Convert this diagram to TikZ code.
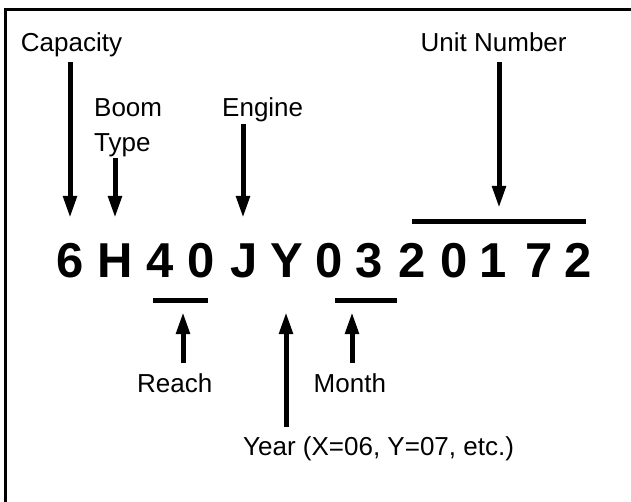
\documentclass[tikz,border=0pt]{standalone}
\usepackage{fontspec}
\setmainfont{Liberation Sans}
\usetikzlibrary{arrows.meta}
\begin{document}
\begin{tikzpicture}[x=1pt,y=-1pt,
  lab/.style={font=\fontsize{26}{34}\selectfont, inner sep=0pt, anchor=base west},
  ch/.style={font=\bfseries\fontsize{49}{55}\selectfont, inner sep=0pt, anchor=base},
  arr/.style={line width=5pt, -{Triangle[length=22pt,width=13pt]}},
  barline/.style={line width=5pt},
  frame/.style={line width=3pt}]
\useasboundingbox (0,0) rectangle (631,502);
% frame (left and top edges only)
\coordinate (fA) at (5.3,502);
\coordinate (fB) at (5.3,10);
\coordinate (fC) at (631,10);
\draw[frame] (fA) -- (fB) -- (fC);
% code characters
\node[ch] (c1) at (70,277) {6};
\node[ch] (c2) at (115,277) {H};
\node[ch] (c3) at (160,277) {4};
\node[ch] (c4) at (201,277) {0};
\node[ch] (c5) at (244,277) {J};
\node[ch] (c6) at (287,277) {Y};
\node[ch] (c7) at (329,277) {0};
\node[ch] (c8) at (369,277) {3};
\node[ch] (c9) at (412,277) {2};
\node[ch] (c10) at (454,277) {0};
\node[ch] (c11) at (493,277) {1};
\node[ch] (c12) at (539,277) {7};
\node[ch] (c13) at (578,277) {2};
% labels
\node[lab] (cap) at (20.7,51.6) {Capacity};
\node[lab] (boom) at (94,117) {Boom};
\node[lab] (type) at (94,151.5) {Type};
\node[lab] (eng) at (222,117) {Engine};
\node[lab] (unit) at (420.5,51.6) {Unit Number};
\node[lab] (reach) at (137,392.6) {Reach};
\node[lab] (month) at (313.5,392.6) {Month};
\node[lab] (year) at (243,455.6) {Year (X=06, Y=07, etc.)};
% bars
\coordinate (uL) at (412,222); \coordinate (uR) at (586,222);
\coordinate (rL) at (153,300.7); \coordinate (rR) at (208,300.7);
\coordinate (mL) at (335,300.7); \coordinate (mR) at (397,300.7);
\draw[barline] (uL) -- (uR);
\draw[barline] (rL) -- (rR);
\draw[barline] (mL) -- (mR);
% arrow end levels
\coordinate (topTip) at (0,218);
\coordinate (unitTip) at (0,208);
\coordinate (botTip) at (0,312);
\coordinate (capS) at (70,62);
\coordinate (boomS) at (115,158);
\coordinate (engS) at (243,124);
\coordinate (unitS) at (499,62);
\coordinate (reachS) at (183,363);
\coordinate (yearS) at (286,427);
\coordinate (monthS) at (352,363);
% arrows
\draw[arr] (capS) -- (capS |- topTip);
\draw[arr] (boomS) -- (boomS |- topTip);
\draw[arr] (engS) -- (engS |- topTip);
\draw[arr] (unitS) -- (unitS |- unitTip);
\draw[arr] (reachS) -- (reachS |- botTip);
\draw[arr] (yearS) -- (yearS |- botTip);
\draw[arr] (monthS) -- (monthS |- botTip);
\end{tikzpicture}
\end{document}
